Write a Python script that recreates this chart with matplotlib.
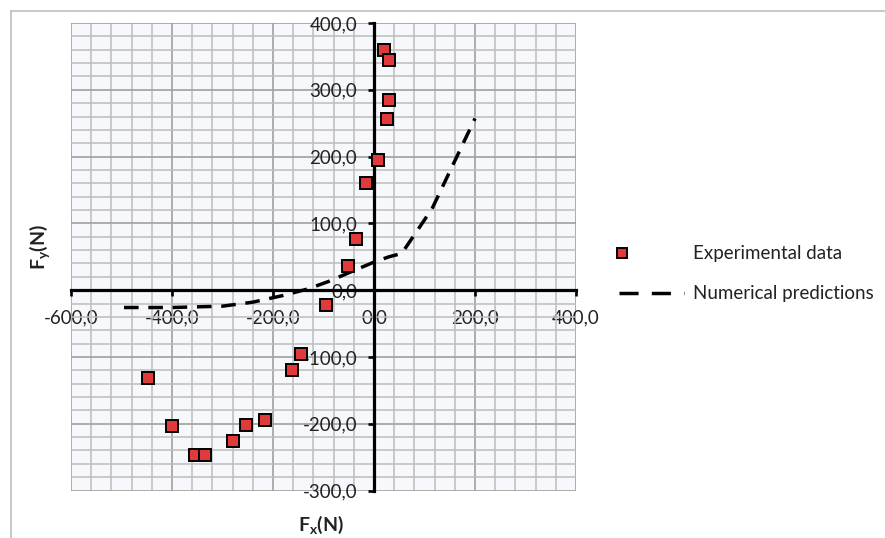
import matplotlib.pyplot as plt
from matplotlib.ticker import MultipleLocator, FuncFormatter
from matplotlib.lines import Line2D

plt.rcParams['font.family'] = ['Lato', 'DejaVu Sans']
plt.rcParams['mathtext.fontset'] = 'custom'
plt.rcParams['mathtext.bf'] = 'Lato:bold'
plt.rcParams['mathtext.rm'] = 'Lato'

# experimental force pairs (N)
exp_fx = [19, 29, 29, 26, 8, -15, -35, -52, -96, -144, -163,
          -447, -400, -355, -335, -279, -253, -216]
exp_fy = [360, 344, 285, 257, 195, 160, 76, 36, -22, -95, -119,
          -132, -204, -247, -247, -226, -202, -194]

# numerical prediction curve (N)
num_fx = [-495, -400, -300, -240, -180, -130, -90, -50, 0, 30, 55, 115, 200]
num_fy = [-26, -26, -24, -18, -8, 2, 13, 26, 42, 50, 55, 122, 257]

x_ticks = [-600, -400, -200, 0, 200, 400]
y_ticks = [-300, -200, -100, 0, 100, 200, 300, 400]


def comma_fmt(v, pos):
    return ('%.1f' % v).replace('.', ',')


fig = plt.figure(figsize=(8.85, 5.38), dpi=100, facecolor='white')
W, H = 885.0, 538.0
ax = fig.add_axes([71 / W, 1 - 490.5 / H, (576 - 71) / W, (490.5 - 23) / H])
ax.set_facecolor('#f6f8fc')

ax.set_xlim(-600, 400)
ax.set_ylim(-300, 400)
ax.set_xticks(x_ticks)
ax.set_yticks(y_ticks)
ax.xaxis.set_minor_locator(MultipleLocator(40))
ax.yaxis.set_minor_locator(MultipleLocator(20))
ax.xaxis.set_major_formatter(FuncFormatter(comma_fmt))
ax.yaxis.set_major_formatter(FuncFormatter(comma_fmt))

ax.grid(which='major', color='#a0a0a0', lw=1.2)
ax.grid(which='minor', color='#bdbdbd', lw=1.1)
ax.set_axisbelow(True)

# axes cross at the origin
for s in ['top', 'right']:
    ax.spines[s].set_visible(False)
ax.spines['left'].set_position(('data', 0))
ax.spines['bottom'].set_position(('data', 0))
ax.spines['left'].set_linewidth(2.3)
ax.spines['bottom'].set_linewidth(2.3)

ax.tick_params(which='major', length=4, width=1.9, color='black',
               labelsize=13.5, labelcolor='#222222')
ax.tick_params(axis='x', pad=10)
ax.tick_params(axis='y', pad=8)
ax.tick_params(which='minor', length=0)

ax.plot(num_fx, num_fy, color='black', lw=2.5, ls=(0, (4.2, 2.8)),
        zorder=3, label='Numerical predictions')
ax.plot(exp_fx, exp_fy, ls='none', marker='s', ms=8.3, mfc='#e03a3a',
        mec='black', mew=1.4, zorder=5, clip_on=False,
        label='Experimental data')

fig.text(40 / W, 1 - 247 / H, r'$\mathbf{F}_\mathbf{y}\mathbf{(N)}$',
         rotation=90, ha='center', va='center', fontsize=14, color='#222222')
fig.text(321 / W, 1 - 525 / H, r'$\mathbf{F}_\mathbf{x}\mathbf{(N)}$',
         ha='center', va='center', fontsize=14, color='#222222')

# legend entries
fig.add_artist(Line2D([622 / W], [1 - 253 / H], ls='none', marker='s', ms=7.5,
                      mfc='#e03a3a', mec='black', mew=1.4))
fig.add_artist(Line2D([619 / W, 684 / W], [1 - 293 / H, 1 - 293 / H],
                      color='black', lw=2.5, ls=(0, (5.5, 3.8))))
fig.text(693 / W, 1 - 253 / H, 'Experimental data', fontsize=13.5,
         color='#222222', va='center')
fig.text(693 / W, 1 - 293 / H, 'Numerical predictions', fontsize=13.5,
         color='#222222', va='center')

# chart frame
fig.add_artist(Line2D([10.5 / W, 1.0], [1 - 10.5 / H, 1 - 10.5 / H],
                      color='#bdbdbd', lw=1.2))
fig.add_artist(Line2D([10.5 / W, 10.5 / W], [0.0, 1 - 10.5 / H],
                      color='#bdbdbd', lw=1.2))

fig.savefig('out.png', dpi=100, facecolor='white')
